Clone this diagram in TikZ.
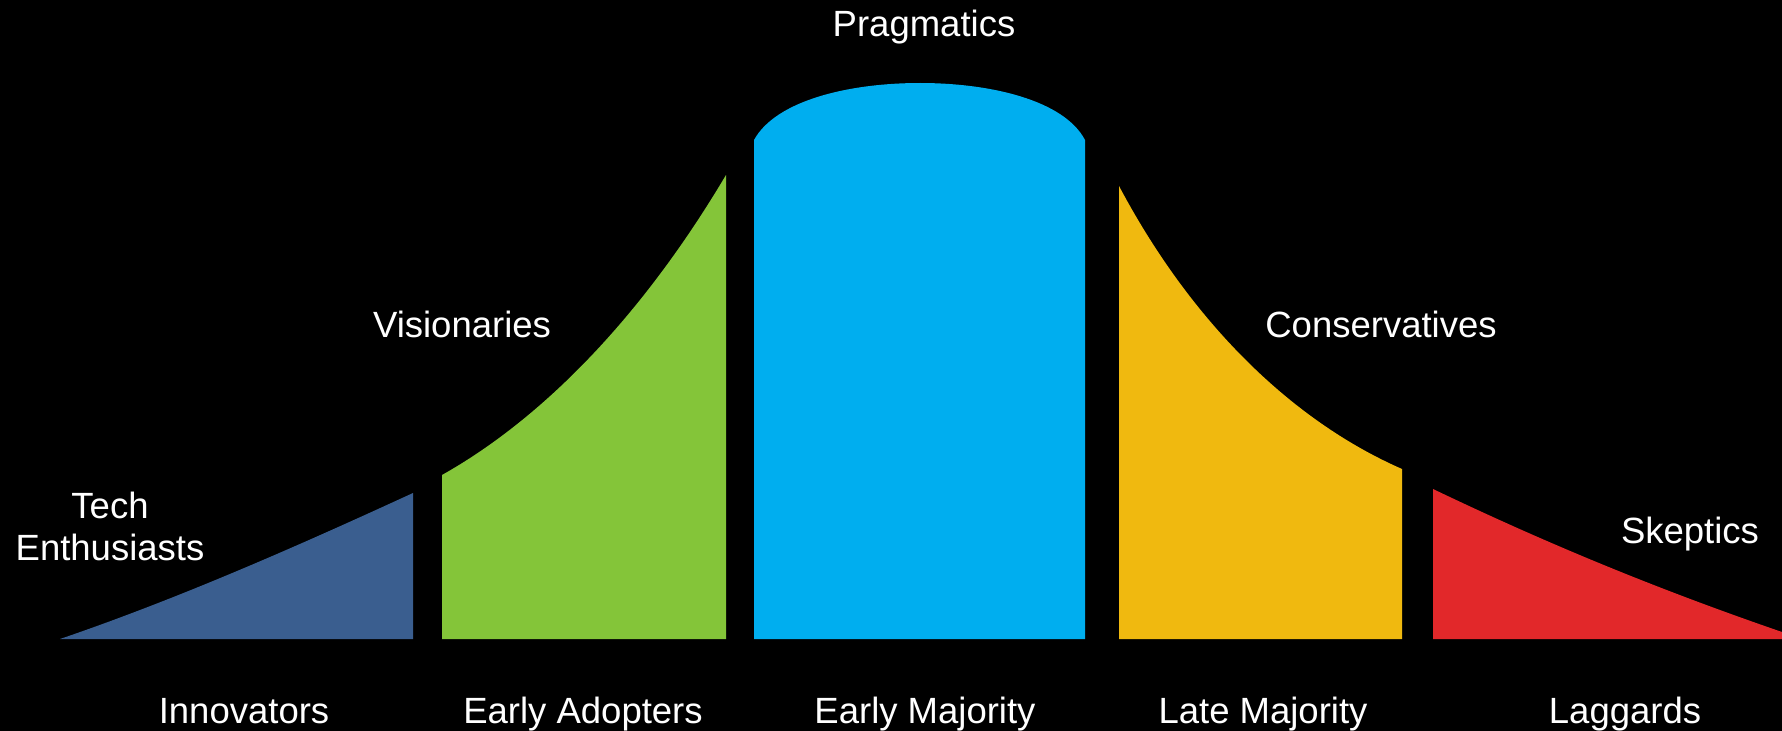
\documentclass[tikz,border=0pt]{standalone}
\usepackage{fontspec}
\setmainfont{Liberation Sans}
\definecolor{innov}{RGB}{58,94,143}
\definecolor{early}{RGB}{132,197,57}
\definecolor{major}{RGB}{0,174,239}
\definecolor{late}{RGB}{240,185,15}
\definecolor{lagg}{RGB}{226,40,42}
\tikzset{
  lbl/.style={text=white, inner sep=0pt, anchor=base, font=\fontsize{36.5bp}{42bp}\selectfont},
  seg/.style={draw=none}
}
\begin{document}
\begin{tikzpicture}[x=1bp,y=-1bp]
\fill[black] (0,0) rectangle (1782,731);
\useasboundingbox (0,0) rectangle (1782,731);
% Innovators
\fill[innov] (60,639) .. controls (180,598) and (300,545) .. (413,493) -- (413,639) -- cycle;
% Early adopters
\fill[early] (442,475) .. controls (540,420) and (640,320) .. (726,175) -- (726,639) -- (442,639) -- cycle;
% Early majority
\fill[major] (754,140) .. controls (776,100) and (850,83) .. (920,83)
  .. controls (990,83) and (1064,100) .. (1085,140) -- (1085,639) -- (754,639) -- cycle;
% Late majority
\fill[late] (1119,186) .. controls (1190,320) and (1290,420) .. (1402,469) -- (1402,639) -- (1119,639) -- cycle;
% Laggards
\fill[lagg] (1433,489) .. controls (1550,545) and (1660,590) .. (1782,632) -- (1782,639) -- (1433,639) -- cycle;
% top labels
\node[lbl] (prag) at (924,37) {Pragmatics};
\node[lbl] (vis) at (462,337) {Visionaries};
\node[lbl] (cons) at (1381,337) {Conservatives};
\node[lbl] (tech) at (110,518) {Tech};
\node[lbl] (enth) at (110,560) {Enthusiasts};
\node[lbl] (skep) at (1690,543) {Skeptics};
% bottom labels
\node[lbl] (inn) at (244,723) {Innovators};
\node[lbl] (ea) at (583,723) {Early Adopters};
\node[lbl] (em) at (925,723) {Early Majority};
\node[lbl] (lm) at (1263,723) {Late Majority};
\node[lbl] (lg) at (1625,723) {Laggards};
\end{tikzpicture}
\end{document}
